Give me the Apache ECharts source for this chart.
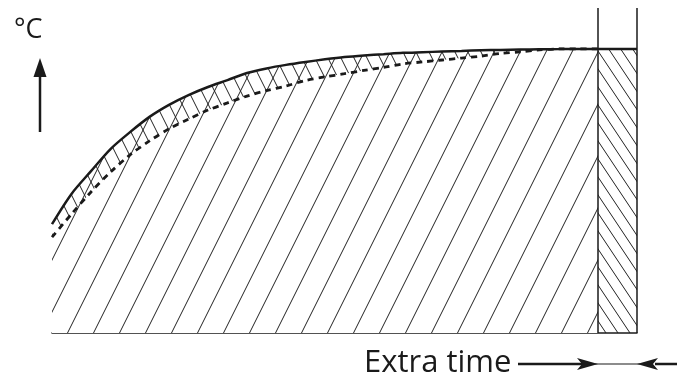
<!DOCTYPE html>
<html>
<head>
<meta charset="utf-8">
<script src="https://cdn.jsdelivr.net/npm/echarts@6/dist/echarts.min.js"></script>
<style>
  html, body { margin: 0; padding: 0; background: #fff; }
  #chart { width: 677px; height: 377px; }
</style>
</head>
<body>
<div id="chart"></div>
<script>
// time steps up to the end of the heating phase
const timeX = [0, 5, 10, 15, 20, 25, 30, 35, 40, 45, 50, 55, 60, 65, 70, 75, 80, 85, 90, 95, 100, 105, 110, 115, 120, 125, 130, 135, 140];
// heating curve (solid line)
const solidY = [33.5, 42.8, 49.8, 56.6, 61.8, 66.5, 70.2, 73.2, 75.7, 77.8, 80.0, 81.4, 82.5, 83.4, 84.2, 84.9, 85.4, 85.8, 86.2, 86.4, 86.6, 86.8, 87.0, 87.1, 87.2, 87.3, 87.35, 87.4, 87.4];
// core temperature (dashed line)
const dashedY = [29.5, 36.6, 43.4, 49.5, 54.8, 59.1, 62.8, 65.8, 68.6, 70.8, 72.9, 74.6, 76.0, 77.7, 78.8, 79.8, 80.8, 81.7, 82.8, 83.4, 84.0, 84.6, 85.2, 86.0, 86.5, 87.1, 87.4, 87.4, 87.4];
// extra time span
const extraX = [140, 150];
const extraY = [87.4, 87.4];

const solidData = timeX.map((x, i) => [x, solidY[i]]);
const dashedData = timeX.map((x, i) => [x, dashedY[i]]);
const extraData = extraX.map((x, i) => [x, extraY[i]]);

// small canvas tile with diagonal lines, used as area pattern
function hatch(w, h, dir, lw) {
  const c = document.createElement('canvas');
  c.width = w; c.height = h;
  const ctx = c.getContext('2d');
  ctx.strokeStyle = '#222';
  ctx.lineWidth = lw;
  for (let k = -1; k <= 1; k++) {
    ctx.beginPath();
    if (dir === '/') {
      ctx.moveTo(k * w, h); ctx.lineTo(k * w + w, 0);
    } else {
      ctx.moveTo(k * w, 0); ctx.lineTo(k * w + w, h);
    }
    ctx.stroke();
  }
  return { image: c, repeat: 'repeat' };
}

const chart = echarts.init(document.getElementById('chart'));
const ink = '#1a1a1a';

chart.setOption({
  animation: false,
  grid: { left: 52, right: 40, top: 8, bottom: 44 },
  xAxis: {
    type: 'value', min: 0, max: 150,
    axisLine: { show: true, lineStyle: { color: ink, width: 1.5 } },
    axisTick: { show: false }, axisLabel: { show: false }, splitLine: { show: false }
  },
  yAxis: {
    type: 'value', min: 0, max: 100,
    axisLine: { show: false }, axisTick: { show: false },
    axisLabel: { show: false }, splitLine: { show: false }
  },
  series: [
    { // back-hatch between the curves
      type: 'line', data: solidData, smooth: 0.3, symbol: 'none',
      lineStyle: { width: 0 },
      areaStyle: { color: hatch(13, 26, '\\', 1), opacity: 1 }
    },
    { // dashed curve, white below it
      type: 'line', data: dashedData, smooth: 0.3, symbol: 'none',
      lineStyle: { color: ink, width: 2.8, type: [6, 5] },
      areaStyle: { color: '#fff', opacity: 1 }
    },
    { // main hatch + solid curve
      type: 'line', data: solidData, smooth: 0.3, symbol: 'none',
      lineStyle: { color: ink, width: 2.5 },
      areaStyle: { color: hatch(26, 52, '/', 1), opacity: 1 }
    },
    { // extra time block
      type: 'line', data: extraData, symbol: 'none',
      lineStyle: { color: ink, width: 2.5 },
      areaStyle: { color: hatch(12, 18, '\\', 1), opacity: 1 },
      markLine: {
        silent: true, symbol: 'none', label: { show: false },
        lineStyle: { color: ink, width: 1.5, type: 'solid' },
        data: [{ xAxis: 140 }, { xAxis: 150 }]
      }
    }
  ],
  graphic: [
    { type: 'text', x: 14, y: 30, style: { text: '°C', font: '27px "Open Sans"', fill: ink, verticalAlign: 'middle' } },
    { type: 'line', shape: { x1: 40, y1: 132, x2: 40, y2: 72 }, style: { stroke: ink, lineWidth: 2.5 } },
    { type: 'polygon', shape: { points: [[40, 58], [33.5, 77], [46.5, 77]] }, style: { fill: ink } },
    { type: 'text', x: 364, y: 363, style: { text: 'Extra time', font: '31px "Open Sans"', fill: ink, verticalAlign: 'middle' } },
    { type: 'line', shape: { x1: 518, y1: 364, x2: 585, y2: 364 }, style: { stroke: ink, lineWidth: 2.5 } },
    { type: 'polygon', shape: { points: [[598, 364], [577, 358], [582, 364], [577, 370]] }, style: { fill: ink } },
    { type: 'line', shape: { x1: 595, y1: 364, x2: 640, y2: 364 }, style: { stroke: ink, lineWidth: 1.2 } },
    { type: 'polygon', shape: { points: [[637, 364], [658, 358], [653, 364], [658, 370]] }, style: { fill: ink } },
    { type: 'line', shape: { x1: 655, y1: 364, x2: 677, y2: 364 }, style: { stroke: ink, lineWidth: 2.5 } }
  ]
});
</script>
</body>
</html>
